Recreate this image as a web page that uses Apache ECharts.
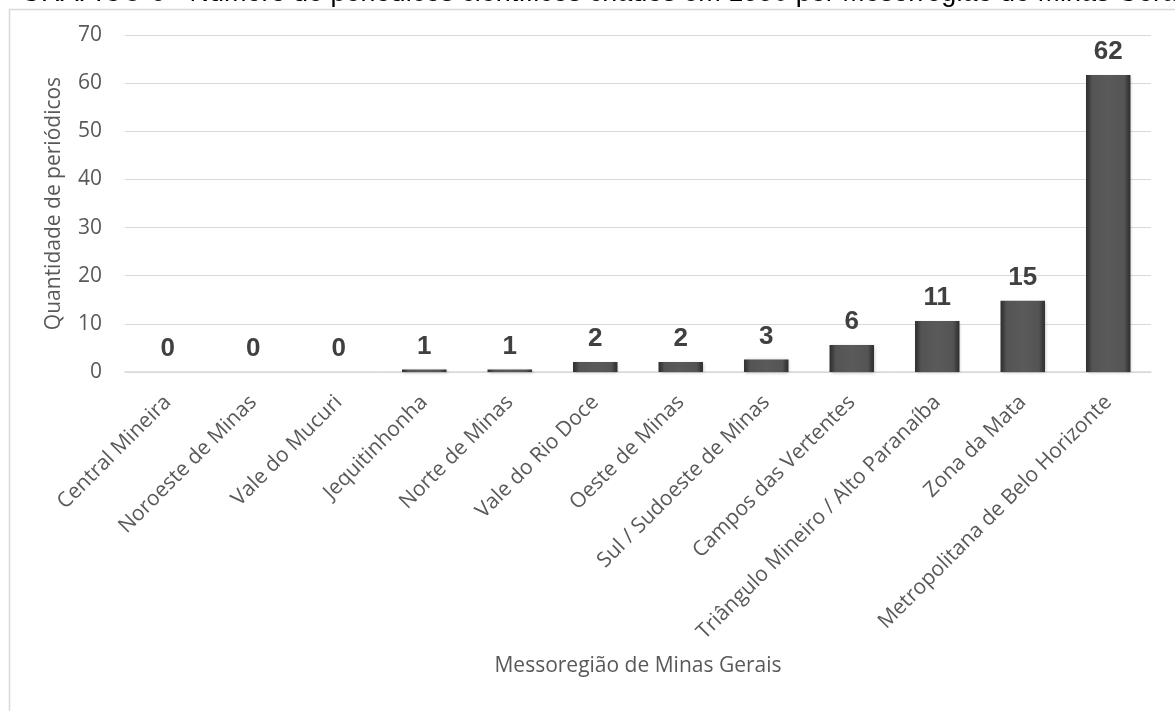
<!DOCTYPE html>
<html>
<head>
<meta charset="utf-8">
<script src="https://cdn.jsdelivr.net/npm/echarts@6/dist/echarts.min.js"></script>
<style>
html,body{margin:0;padding:0;background:#fff;}
#chart{width:1175px;height:711px;}
</style>
</head>
<body>
<div id="chart"></div>
<script>
const categories = ["Central Mineira","Noroeste de Minas","Vale do Mucuri","Jequitinhonha","Norte de Minas","Vale do Rio Doce","Oeste de Minas","Sul / Sudoeste de Minas","Campos das Vertentes","Triângulo Mineiro / Alto Paranaíba","Zona da Mata","Metropolitana de Belo Horizonte"];
const values = [0, 0, 0, 0.5, 0.5, 2.1, 2.1, 2.6, 5.6, 10.6, 14.8, 61.7];
const yTicks = [0, 10, 20, 30, 40, 50, 60, 70];
const titleText = "GRÁFICO 6 - Número de periódicos científicos criados em 1990 por Mesorregião de Minas Gerais";
const yAxisTitle = "Quantidade de periódicos";
const xAxisTitle = "Messoregião de Minas Gerais";

const chart = echarts.init(document.getElementById('chart'), null, {renderer:'canvas'});
const barGrad = new echarts.graphic.LinearGradient(0,0,1,0,[
  {offset:0,color:'#2e2e2e'},
  {offset:0.06,color:'#3c3c3c'},
  {offset:0.14,color:'#545454'},
  {offset:0.5,color:'#5a5a5a'},
  {offset:0.86,color:'#545454'},
  {offset:0.94,color:'#3c3c3c'},
  {offset:1,color:'#2e2e2e'}
]);
const font = '"Open Sans", sans-serif';
chart.setOption({
  backgroundColor:'#ffffff',
  animation:false,
  graphic:[
    {type:'rect', left:7, top:7, shape:{width:1200,height:720}, style:{fill:'none', stroke:'#d9d9d9', lineWidth:1.5}, z:-1},
    {type:'text', left:20, top:-20, style:{text:titleText, font:'27px "Liberation Sans", Arial, sans-serif', fill:'#000'}}
  ],
  grid:{left:125, right:24, top:35, bottom:339, containLabel:false},
  xAxis:{
    type:'category',
    data:categories,
    axisLine:{lineStyle:{color:'#d9d9d9', width:1.5}},
    axisTick:{show:false},
    axisLabel:{rotate:45, color:'#595959', fontSize:21, fontFamily:font, interval:0, margin:27},
    name:xAxisTitle,
    nameLocation:'middle',
    nameGap:284,
    nameMoveOverlap:false,
    nameTextStyle:{color:'#595959', fontSize:21, fontFamily:font}
  },
  yAxis:{
    type:'value',
    min:yTicks[0], max:yTicks[yTicks.length-1], interval:10,
    axisLine:{show:false},
    axisTick:{show:false},
    splitLine:{lineStyle:{color:'#d9d9d9', width:1}},
    axisLabel:{color:'#595959', fontSize:21, fontFamily:font, margin:23},
    name:yAxisTitle,
    nameLocation:'middle',
    nameGap:60,
    nameMoveOverlap:false,
    nameTextStyle:{color:'#595959', fontSize:21, fontFamily:font}
  },
  series:[{
    type:'bar',
    data:values,
    barWidth:'52%',
    itemStyle:{color:barGrad, borderWidth:0, shadowColor:'rgba(0,0,0,0.25)', shadowBlur:3, shadowOffsetX:1, shadowOffsetY:1},
    label:{
      show:true, position:'top', distance:10,
      formatter:p=>String(Math.round(p.value)),
      color:'#404040', fontSize:26, fontWeight:'bold', fontFamily:'"Liberation Sans", Arial, sans-serif'
    }
  }]
});
</script>
</body>
</html>
